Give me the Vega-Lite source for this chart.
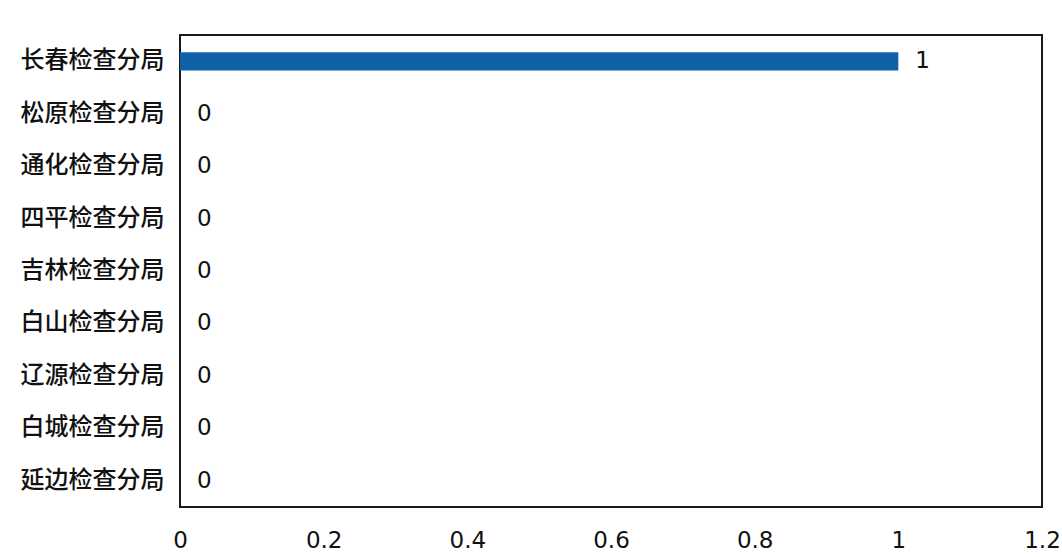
{
  "$schema": "https://vega.github.io/schema/vega-lite/v6.json",
  "width": 862,
  "height": 472,
  "autosize": {"type": "none"},
  "padding": {"left": 180, "top": 35, "right": 20, "bottom": 50},
  "background": "#ffffff",
  "config": {
    "view": {"stroke": "#1a1a1a", "strokeWidth": 2},
    "axis": {"grid": false, "ticks": false, "domain": false}
  },
  "data": {
    "values": [
      {"name": "长春检查分局", "value": 1},
      {"name": "松原检查分局", "value": 0},
      {"name": "通化检查分局", "value": 0},
      {"name": "四平检查分局", "value": 0},
      {"name": "吉林检查分局", "value": 0},
      {"name": "白山检查分局", "value": 0},
      {"name": "辽源检查分局", "value": 0},
      {"name": "白城检查分局", "value": 0},
      {"name": "延边检查分局", "value": 0}
    ]
  },
  "encoding": {
    "y": {
      "field": "name",
      "type": "nominal",
      "sort": null,
      "title": null,
      "scale": {"paddingInner": 0.65, "paddingOuter": 0.33},
      "axis": {"labelFont": "Noto Sans CJK SC", "labelFontSize": 24, "labelFontWeight": 500, "labelColor": "#111", "labelPadding": 16}
    },
    "x": {
      "field": "value",
      "type": "quantitative",
      "title": null,
      "scale": {"domain": [0, 1.2], "nice": false},
      "axis": {"values": [0, 0.2, 0.4, 0.6, 0.8, 1, 1.2], "format": "~g", "labelFont": "DejaVu Sans", "labelFontSize": 23, "labelColor": "#111", "labelPadding": 22, "labelFlush": false}
    }
  },
  "layer": [
    {"mark": {"type": "bar", "color": "#0f62a8"}},
    {
      "mark": {"type": "text", "align": "left", "baseline": "middle", "dx": 17, "font": "DejaVu Sans", "fontSize": 23, "color": "#111"},
      "encoding": {"text": {"field": "value", "type": "quantitative", "format": "~g"}}
    }
  ]
}
